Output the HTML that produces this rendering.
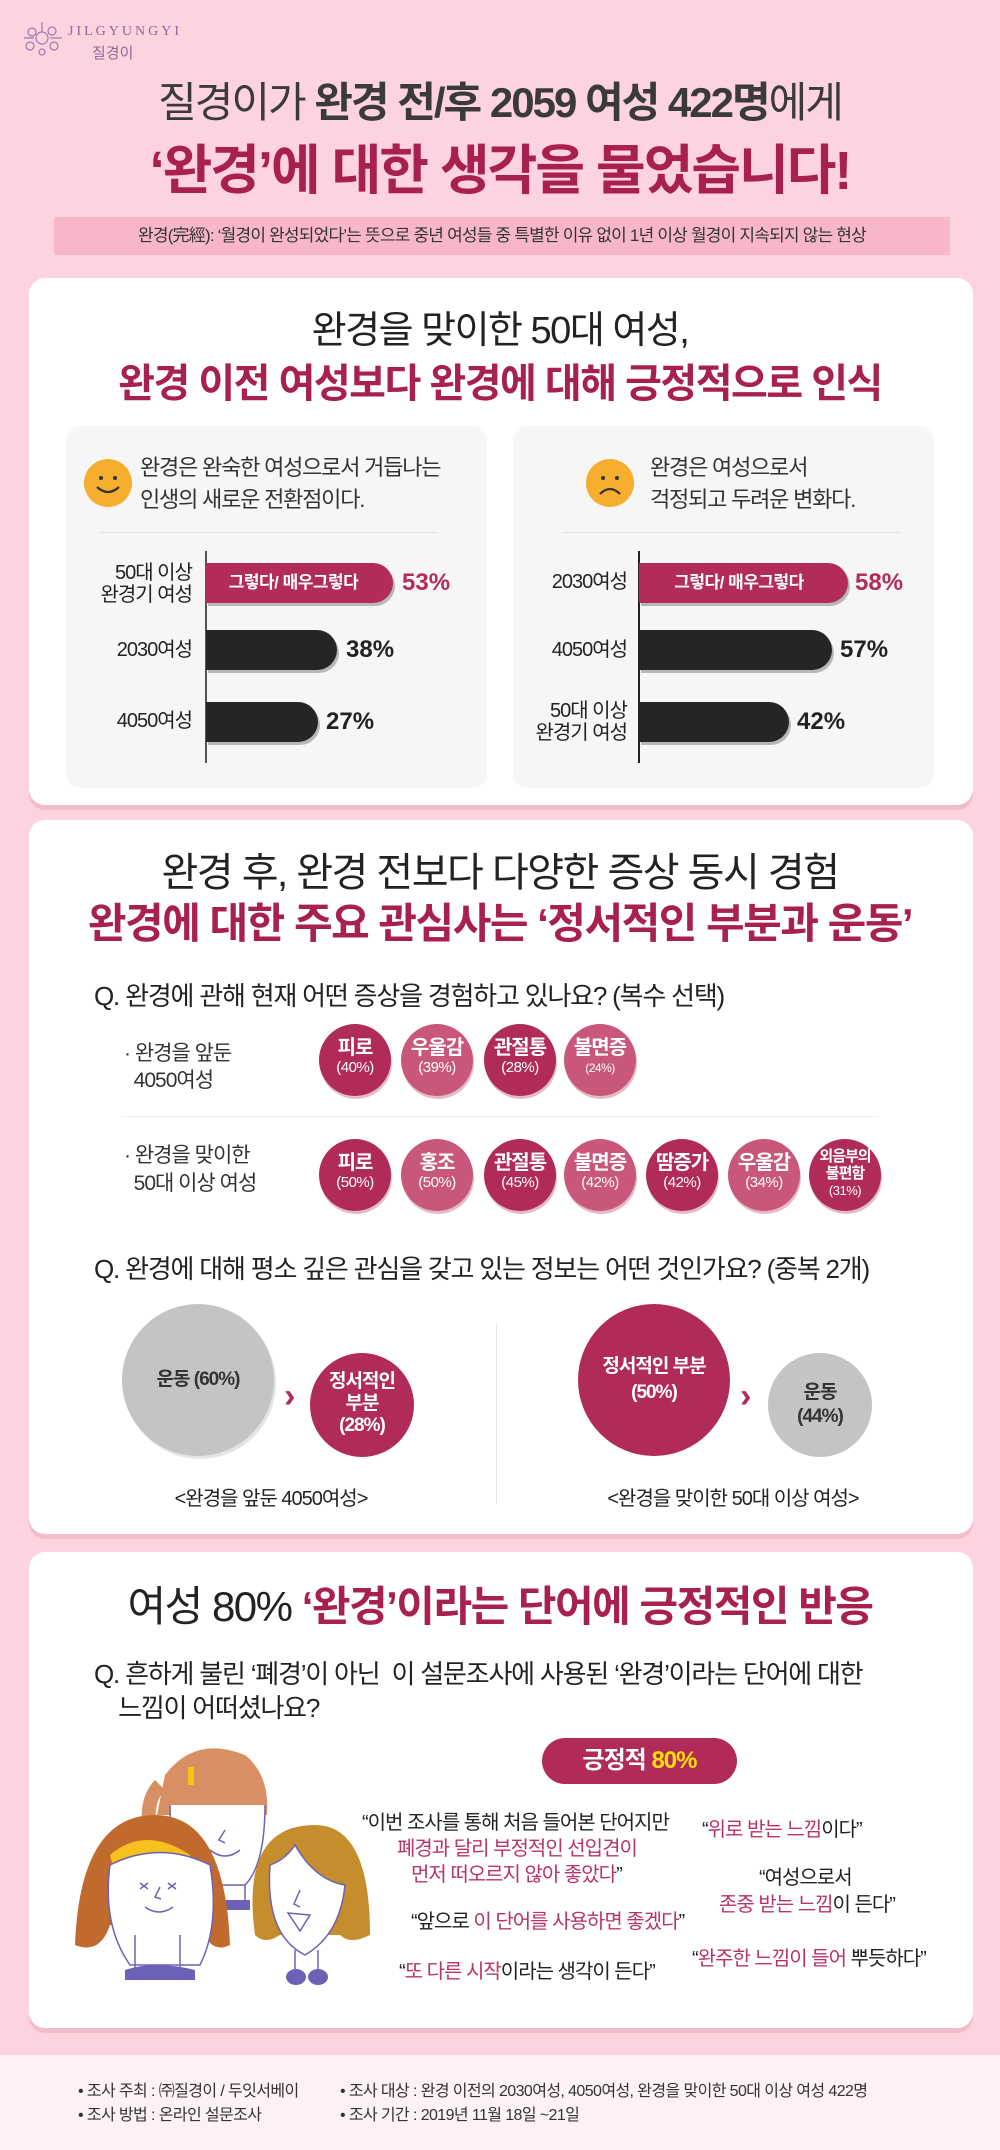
<!DOCTYPE html>
<html><head><meta charset="utf-8">
<style>
*{margin:0;padding:0;box-sizing:border-box}
body{width:1000px;height:2150px;background:#fdd3df;position:relative;overflow:hidden;font-family:"Liberation Sans","Noto Sans CJK KR",sans-serif;color:#222}
.a{position:absolute;white-space:nowrap}
.c{text-align:center}
.cr{color:#a8204f}
.card{position:absolute;left:29px;width:944px;background:#fff;border-radius:16px;box-shadow:0 5px 0 #f3bccb}
.sub{position:absolute;background:#f6f6f6;border-radius:14px;width:421px;height:362px;top:426px}
.bar{position:absolute;height:40px;border-radius:0 22px 22px 0;box-shadow:2px 3px 0 rgba(0,0,0,.25)}
.lbl{position:absolute;font-size:20px;text-align:right;line-height:22px;letter-spacing:-1px;color:#222}
.pct{position:absolute;font-size:24px;font-weight:bold;line-height:40px}
.circ{position:absolute;width:72px;height:72px;border-radius:50%;color:#fff;text-align:center;box-shadow:1px 3px 0 rgba(160,30,70,.3)}
.circ b{display:block;font-size:20px;margin-top:13px;line-height:22px;letter-spacing:-1px}
.circ span{display:block;font-size:15px;line-height:18px;letter-spacing:-.5px}
.d{background:#b02a5a}.l{background:#c9577a}
.q{font-size:20px;letter-spacing:-1px;position:absolute;white-space:nowrap;color:#222}
</style></head><body>

<svg class="a" style="left:18px;top:18px" width="50" height="44"><g stroke="#9a7aa8" fill="none" stroke-width="1.2"><circle cx="24" cy="20" r="6"/><circle cx="14" cy="14" r="4"/><circle cx="34" cy="13" r="4"/><circle cx="12" cy="28" r="4"/><circle cx="36" cy="28" r="4"/><circle cx="24" cy="34" r="3"/><path d="M24 4v10M6 20h10M32 20h12"/></g></svg>
<div class="a" style="left:68px;top:24px;font-family:'Liberation Serif',serif;font-size:14px;letter-spacing:3px;color:#8a6a95">JILGYUNGYI</div>
<div class="a" style="left:92px;top:42px;font-size:15px;color:#8a6a95">질경이</div>

<div class="a c" style="left:0;width:1000px;top:78px;font-size:42px;line-height:50px;letter-spacing:-2px;color:#3a3a3a">질경이가 <b>완경 전/후 2059 여성 422명</b>에게</div>
<div class="a c cr" style="left:0;width:1000px;top:140px;font-size:54px;line-height:62px;letter-spacing:-2px;font-weight:bold">‘완경’에 대한 생각을 물었습니다!</div>
<div class="a c" style="left:54px;width:896px;top:217px;height:38px;background:#f7b7c7;font-size:17px;line-height:38px;letter-spacing:-.8px;color:#333">완경(完經): ‘월경이 완성되었다’는 뜻으로 중년 여성들 중 특별한 이유 없이 1년 이상 월경이 지속되지 않는 현상</div>

<div class="card" style="top:278px;height:527px"></div>
<div class="a c" style="left:0;width:1000px;top:308px;font-size:38px;line-height:46px;letter-spacing:-1.5px;color:#222">완경을 맞이한 50대 여성,</div>
<div class="a c cr" style="left:0;width:1000px;top:360px;font-size:40px;line-height:48px;letter-spacing:-1.5px;font-weight:bold">완경 이전 여성보다 완경에 대해 긍정적으로 인식</div>

<div class="sub" style="left:66px"></div>
<div class="sub" style="left:513px"></div>
<svg class="a" style="left:84px;top:459px" width="48" height="48"><circle cx="24" cy="24" r="24" fill="#f5ae2d"/><circle cx="17" cy="19" r="2" fill="#333"/><circle cx="31" cy="19" r="2" fill="#333"/><path d="M13 28q11 10 22 0" stroke="#333" stroke-width="2.2" fill="none"/></svg>
<svg class="a" style="left:586px;top:459px" width="48" height="48"><circle cx="24" cy="24" r="24" fill="#f5ae2d"/><circle cx="17" cy="19" r="2" fill="#333"/><circle cx="31" cy="19" r="2" fill="#333"/><path d="M14 35q10 -10 20 0" stroke="#333" stroke-width="2.2" fill="none"/></svg>
<div class="a" style="left:140px;top:452px;font-size:22px;line-height:32px;letter-spacing:-1.2px;color:#333">완경은 완숙한 여성으로서 거듭나는<br>인생의 새로운 전환점이다.</div>
<div class="a" style="left:650px;top:452px;font-size:22px;line-height:32px;letter-spacing:-1.2px;color:#333">완경은 여성으로서<br>걱정되고 두려운 변화다.</div>
<div class="a" style="left:100px;top:532px;width:337px;height:1px;background:#e2e2e2"></div>
<div class="a" style="left:563px;top:532px;width:337px;height:1px;background:#e2e2e2"></div>

<div class="a" style="left:205px;top:551px;width:2px;height:212px;background:#555"></div>
<div class="bar" style="left:206px;top:563px;width:187px;background:#b12c5b"></div>
<div class="a c" style="left:206px;top:563px;width:175px;line-height:40px;font-size:17px;font-weight:bold;color:#fff;letter-spacing:-.5px">그렇다/ 매우그렇다</div>
<div class="pct cr" style="left:402px;top:563px;color:#b12c5b">53%</div>
<div class="bar" style="left:206px;top:630px;width:131px;background:#252525"></div>
<div class="pct" style="left:346px;top:630px">38%</div>
<div class="bar" style="left:206px;top:702px;width:112px;background:#252525"></div>
<div class="pct" style="left:326px;top:702px">27%</div>
<div class="lbl" style="left:80px;width:112px;top:562px">50대 이상<br>완경기 여성</div>
<div class="lbl" style="left:80px;width:112px;top:639px">2030여성</div>
<div class="lbl" style="left:80px;width:112px;top:710px">4050여성</div>

<div class="a" style="left:638px;top:551px;width:2px;height:212px;background:#222"></div>
<div class="bar" style="left:639px;top:563px;width:209px;background:#b12c5b"></div>
<div class="a c" style="left:639px;top:563px;width:200px;line-height:40px;font-size:17px;font-weight:bold;color:#fff;letter-spacing:-.5px">그렇다/ 매우그렇다</div>
<div class="pct" style="left:855px;top:563px;color:#b12c5b">58%</div>
<div class="bar" style="left:639px;top:630px;width:193px;background:#252525"></div>
<div class="pct" style="left:840px;top:630px">57%</div>
<div class="bar" style="left:639px;top:702px;width:150px;background:#252525"></div>
<div class="pct" style="left:797px;top:702px">42%</div>
<div class="lbl" style="left:515px;width:112px;top:571px">2030여성</div>
<div class="lbl" style="left:515px;width:112px;top:639px">4050여성</div>
<div class="lbl" style="left:515px;width:112px;top:700px">50대 이상<br>완경기 여성</div>

<div class="card" style="top:820px;height:714px"></div>
<div class="a c" style="left:0;width:1000px;top:849px;font-size:40px;line-height:48px;letter-spacing:-1.5px;color:#222">완경 후, 완경 전보다 다양한 증상 동시 경험</div>
<div class="a c cr" style="left:0;width:1000px;top:899px;font-size:42px;line-height:50px;letter-spacing:-1.5px;font-weight:bold">완경에 대한 주요 관심사는 ‘정서적인 부분과 운동’</div>
<div class="a" style="left:94px;top:980px;font-size:26px;line-height:32px;letter-spacing:-1.2px;color:#222">Q. 완경에 관해 현재 어떤 증상을 경험하고 있나요? (복수 선택)</div>
<div class="a" style="left:124px;top:1040px;font-size:21px;line-height:27px;letter-spacing:-1px;color:#333">· 완경을 앞둔<br>&nbsp;&nbsp;4050여성</div>
<div class="circ d" style="left:319px;top:1024px"><b>피로</b><span>(40%)</span></div>
<div class="circ l" style="left:401px;top:1024px"><b>우울감</b><span>(39%)</span></div>
<div class="circ d" style="left:484px;top:1024px"><b>관절통</b><span>(28%)</span></div>
<div class="circ l" style="left:564px;top:1024px"><b>불면증</b><span style="font-size:12px">(24%)</span></div>
<div class="a" style="left:121px;top:1116px;width:758px;height:1px;background:#eee"></div>
<div class="a" style="left:124px;top:1142px;font-size:21px;line-height:28px;letter-spacing:-1px;color:#333">· 완경을 맞이한<br>&nbsp;&nbsp;50대 이상 여성</div>
<div class="circ d" style="left:319px;top:1139px"><b>피로</b><span>(50%)</span></div>
<div class="circ l" style="left:401px;top:1139px"><b>홍조</b><span>(50%)</span></div>
<div class="circ d" style="left:484px;top:1139px"><b>관절통</b><span>(45%)</span></div>
<div class="circ l" style="left:564px;top:1139px"><b>불면증</b><span>(42%)</span></div>
<div class="circ d" style="left:646px;top:1139px"><b>땀증가</b><span>(42%)</span></div>
<div class="circ l" style="left:728px;top:1139px"><b>우울감</b><span>(34%)</span></div>
<div class="circ d" style="left:809px;top:1139px"><b style="font-size:15px;line-height:17px;margin-top:9px">외음부의<br>불편함</b><span style="font-size:13px">(31%)</span></div>

<div class="a" style="left:94px;top:1253px;font-size:26px;line-height:32px;letter-spacing:-1.2px;color:#222">Q. 완경에 대해 평소 깊은 관심을 갖고 있는 정보는 어떤 것인가요? (중복 2개)</div>
<div class="a c" style="left:122px;top:1304px;width:152px;height:152px;border-radius:50%;background:#c4c4c4;line-height:152px;font-size:19px;font-weight:bold;color:#333;letter-spacing:-1px;box-shadow:2px 3px 0 #e4e4e4">운동 (60%)</div>
<div class="a" style="left:284px;top:1376px;font-size:34px;font-weight:bold;color:#b02a5a;line-height:40px">›</div>
<div class="a c" style="left:310px;top:1353px;width:104px;height:104px;border-radius:50%;background:#b02a5a;color:#fff;font-size:19px;font-weight:bold;line-height:22px;padding-top:18px;letter-spacing:-1px">정서적인<br>부분<br>(28%)</div>
<div class="a c" style="left:121px;top:1482px;width:300px;font-size:20px;letter-spacing:-1px;color:#222">&lt;완경을 앞둔 4050여성&gt;</div>
<div class="a" style="left:496px;top:1324px;width:1px;height:180px;background:#e6e6e6"></div>
<div class="a c" style="left:578px;top:1304px;width:152px;height:152px;border-radius:50%;background:#b02a5a;color:#fff;font-size:19px;font-weight:bold;line-height:26px;padding-top:50px;letter-spacing:-1px">정서적인 부분<br>(50%)</div>
<div class="a" style="left:740px;top:1376px;font-size:34px;font-weight:bold;color:#b02a5a;line-height:40px">›</div>
<div class="a c" style="left:768px;top:1353px;width:104px;height:104px;border-radius:50%;background:#c4c4c4;color:#333;font-size:19px;font-weight:bold;line-height:24px;padding-top:28px;letter-spacing:-1px">운동<br>(44%)</div>
<div class="a c" style="left:563px;top:1482px;width:340px;font-size:20px;letter-spacing:-1px;color:#222">&lt;완경을 맞이한 50대 이상 여성&gt;</div>

<div class="card" style="top:1552px;height:476px"></div>
<div class="a c" style="left:0;width:1000px;top:1582px;font-size:42px;line-height:50px;letter-spacing:-1.5px;color:#222">여성 80% <b class="cr">‘완경’이라는 단어에 긍정적인 반응</b></div>
<div class="a" style="left:94px;top:1657px;font-size:26px;line-height:34px;letter-spacing:-1.2px;color:#222">Q. 흔하게 불린 ‘폐경’이 아닌&nbsp; 이 설문조사에 사용된 ‘완경’이라는 단어에 대한<br>&nbsp;&nbsp;&nbsp;&nbsp;느낌이 어떠셨나요?</div>
<div class="a c" style="left:542px;top:1738px;width:195px;height:46px;border-radius:23px;background:#b02a5a;color:#fff;font-size:24px;font-weight:bold;line-height:46px;letter-spacing:-1px">긍정적 <span style="color:#ffe000">80%</span></div>

<svg class="a" style="left:60px;top:1735px" width="330" height="255">
<g stroke="#6b62b8" stroke-width="1.5" fill="none">
<path d="M105 40q30 -40 80 -20q25 20 22 60l-110 0z" fill="#d88f63" stroke="none"/>
<path d="M100 50q-20 20 -5 70" stroke="#d88f63" stroke-width="14"/>
<rect x="128" y="32" width="6" height="18" fill="#f5c414" stroke="none"/>
<path d="M110 70q0 70 25 80h50q20 -20 20 -80" fill="#fff"/>
<path d="M145 150v20h40v-20"/>
<path d="M140 165h50v10h-50z" fill="#6b62b8" stroke="none"/>
<path d="M165 95l-6 10l6 3M150 115q15 12 30 0"/>
<path d="M15 210q5 -130 80 -130q70 0 75 130q-20 10 -30 -20l-90 0q-10 30 -35 20z" fill="#c06a2e" stroke="none"/>
<path d="M50 120q35 -30 80 0l-2 8q-35 -20 -76 0z" fill="#f7c01c" stroke="none"/>
<path d="M50 130q-8 60 20 100h70q20 -40 10 -100q-50 -25 -100 0z" fill="#fff"/>
<path d="M75 200v40M120 200v40"/>
<path d="M65 235q30 -10 70 0v10h-70z" fill="#6b62b8" stroke="none"/>
<path d="M80 148l8 6M80 154l8 -6M108 148l8 6M108 154l8 -6M100 152l-5 10l6 2M85 172q14 10 28 0"/>
<path d="M195 200q-15 -110 60 -110q55 0 55 110q-20 10 -30 0h-60q-15 10 -25 0z" fill="#c68d2c" stroke="none"/>
<path d="M210 130q-5 70 35 90q35 -20 40 -70q-30 -5 -50 -40q-10 15 -25 20z" fill="#fff"/>
<path d="M235 215v20M258 215v20"/>
<ellipse cx="236" cy="242" rx="10" ry="8" fill="#6b62b8" stroke="none"/><ellipse cx="258" cy="242" rx="10" ry="8" fill="#6b62b8" stroke="none"/>
<path d="M240 155l-6 14l6 3M228 178l12 18l10 -16z"/>
</g></svg>

<div class="q" style="left:362px;top:1806px">“이번 조사를 통해 처음 들어본 단어지만</div>
<div class="q cr" style="left:397px;top:1832px;color:#b8336a">폐경과 달리 부정적인 선입견이</div>
<div class="q" style="left:411px;top:1858px"><span style="color:#b8336a">먼저 떠오르지 않아 좋았다</span>”</div>
<div class="q" style="left:702px;top:1813px">“<span style="color:#b8336a">위로 받는 느낌</span>이다”</div>
<div class="q" style="left:759px;top:1861px">“여성으로서</div>
<div class="q" style="left:719px;top:1888px"><span style="color:#b8336a">존중 받는 느낌</span>이 든다”</div>
<div class="q" style="left:411px;top:1905px">“앞으로 <span style="color:#b8336a">이 단어를 사용하면 좋겠다</span>”</div>
<div class="q" style="left:692px;top:1942px">“<span style="color:#b8336a">완주한 느낌이 들어</span> 뿌듯하다”</div>
<div class="q" style="left:399px;top:1955px">“<span style="color:#b8336a">또 다른 시작</span>이라는 생각이 든다”</div>

<div class="a" style="left:0;top:2055px;width:1000px;height:95px;background:#fdf1f4"></div>
<div class="a" style="left:78px;top:2080px;font-size:16px;line-height:24px;letter-spacing:-.6px;color:#333">• 조사 주최 : ㈜질경이 / 두잇서베이<br>• 조사 방법 : 온라인 설문조사</div>
<div class="a" style="left:340px;top:2080px;font-size:16px;line-height:24px;letter-spacing:-.6px;color:#333">• 조사 대상 : 완경 이전의 2030여성, 4050여성, 완경을 맞이한 50대 이상 여성 422명<br>• 조사 기간 : 2019년 11월 18일 ~21일</div>
</body></html>
